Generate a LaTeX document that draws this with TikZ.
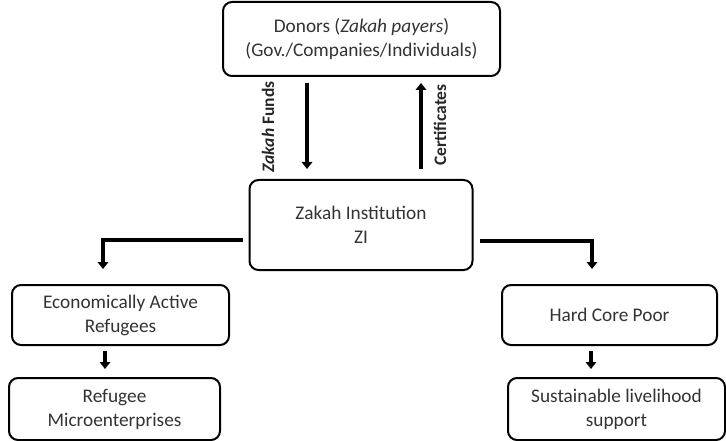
\documentclass[tikz,border=0pt]{standalone}
\usepackage{fontspec}
\setmainfont{Carlito}
\usepackage{tikz}
\usetikzlibrary{shapes}
\usetikzlibrary{arrows.meta}

\begin{document}
\begin{tikzpicture}[x=1pt, y=-1pt,
		box/.style={draw, line width=2pt, rounded corners=9pt, align=center, font=\fontsize{19.3}{24}\selectfont, text=black!80, inner sep=0pt},
		flow/.style={line width=3.6pt, -{Triangle[length=7pt,width=10.5pt]}},
		lbl/.style={font=\fontsize{17.5}{19}\selectfont\bfseries, text=black!85, inner sep=0pt}]
		\useasboundingbox (0,0) rectangle (726,441);
		\node[box, minimum width=277pt, minimum height=74pt] (don) at (361.5,39) {Donors (\textit{Zakah payers})\\(Gov./Companies/Individuals)};
		\node[box, minimum width=223pt, minimum height=90pt] (zi) at (361,225) {Zakah Institution\\ZI};
		\node[box, minimum width=217pt, minimum height=60pt] (ear) at (120.5,315) {Economically Active\\Refugees};
		\node[box, minimum width=211pt, minimum height=62pt] (rm) at (114.5,409) {Refugee\\Microenterprises};
		\node[box, minimum width=215pt, minimum height=60pt] (hcp) at (609.5,315) {Hard Core Poor};
		\node[box, minimum width=217pt, minimum height=62pt] (sls) at (616.5,409) {Sustainable livelihood\\support};
		\node[lbl, rotate=90] (zf) at (268,127) {\textit{Zakah} Funds};
		\node[lbl, rotate=90] (cert) at (440,125) {Certificates};
		\draw[flow, shorten <=6pt, shorten >=10pt] ([xshift=-54.5pt]don.south) -- ([xshift=-54pt]zi.north);
		\draw[flow, shorten <=10pt, shorten >=6pt] ([xshift=60pt]zi.north) -- ([xshift=59.5pt]don.south);
		\draw[flow, shorten <=6pt, shorten >=15pt] ([yshift=-15pt]zi.west) -| ([xshift=-17.5pt]ear.north);
		\draw[flow, shorten <=6pt, shorten >=15pt] ([yshift=-16pt]zi.east) -| ([xshift=-17.5pt]hcp.north);
		\draw[flow, shorten <=5pt, shorten >=8pt] ([xshift=-15.5pt]ear.south) -- ([xshift=-9.5pt]rm.north);
		\draw[flow, shorten <=5pt, shorten >=8pt] ([xshift=-18.5pt]hcp.south) -- ([xshift=-25.5pt]sls.north);
	\end{tikzpicture}
\end{document}
